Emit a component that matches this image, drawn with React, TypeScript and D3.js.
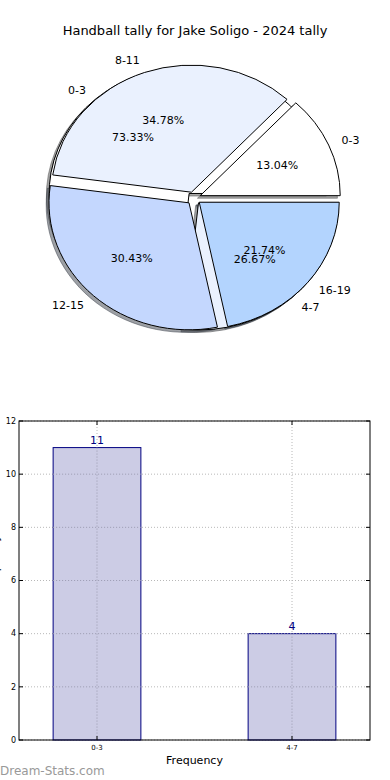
import React from 'react';
import * as d3 from 'd3';

// outer pie: score ranges
const tallyLabels = ['0-3', '8-11', '12-15', '16-19'];
const tallyValues = [3, 8, 7, 5];
const tallyColors = ['#ffffff', '#eaf1fe', '#c4d7fe', '#b3d4fe'];

// inner pie: frequency
const freqLabels = ['0-3', '4-7'];
const freqValues = [11, 4];
const freqColors = ['#ffffff', '#eaf1fe'];

// bar chart ticks
const yTicks = [0, 2, 4, 6, 8, 10, 12];

const W = 390;
const H = 780;
const FONT = 'DejaVu Sans, sans-serif';

const cx = 193.8;
const cy = 198.2;
const rx = 140;
const ry = 127;
const explode = 0.05;

interface PieProps {
  labels: string[];
  values: number[];
  colors: string[];
}

// matplotlib starts at 3 o'clock and goes counterclockwise
const pieGen = d3.pie<number>().sort(null).startAngle(Math.PI / 2).endAngle(Math.PI / 2 - 2 * Math.PI);
const arcGen = d3.arc<d3.PieArcDatum<number>>().innerRadius(0).outerRadius(1);

const offsetOf = (d: d3.PieArcDatum<number>, dist: number) => {
  const a = (d.startAngle + d.endAngle) / 2;
  return [Math.sin(a) * dist, -Math.cos(a) * dist];
};

const Shadows: React.FC<PieProps> = ({ values, colors }) => {
  const arcs = pieGen(values);
  return (
    <g>
      {arcs.map((d, i) => {
        const [ox, oy] = offsetOf(d, explode);
        const c = d3.rgb(colors[i]);
        const sc = `rgba(${c.r * 0.3},${c.g * 0.3},${c.b * 0.3},0.5)`;
        return (
          <path
            key={i}
            d={arcGen(d) || ''}
            transform={`translate(${cx - 0.02 * rx},${cy + 0.02 * ry}) scale(${rx},${ry}) translate(${ox},${oy})`}
            fill={sc}
            stroke={sc}
            strokeWidth={1}
            vectorEffect="non-scaling-stroke"
          />
        );
      })}
    </g>
  );
};

const Wedges: React.FC<PieProps> = ({ values, colors }) => {
  const arcs = pieGen(values);
  return (
    <g>
      {arcs.map((d, i) => {
        const [ox, oy] = offsetOf(d, explode);
        return (
          <path
            key={i}
            d={arcGen(d) || ''}
            transform={`translate(${cx},${cy}) scale(${rx},${ry}) translate(${ox},${oy})`}
            fill={colors[i]}
            stroke="#000"
            strokeWidth={1}
            strokeLinejoin="round"
            vectorEffect="non-scaling-stroke"
          />
        );
      })}
    </g>
  );
};

const PieTexts: React.FC<PieProps> = ({ labels, values }) => {
  const arcs = pieGen(values);
  const total = d3.sum(values);
  return (
    <g fontFamily={FONT} fontSize={11} fill="#000">
      {arcs.map((d, i) => {
        const [lx, ly] = offsetOf(d, 1.1 + explode);
        const [px, py] = offsetOf(d, 0.6 + explode);
        return (
          <g key={i}>
            <text
              x={cx + lx * rx}
              y={cy + ly * ry}
              dy="0.35em"
              textAnchor={lx > 0 ? 'start' : 'end'}
            >
              {labels[i]}
            </text>
            <text x={cx + px * rx} y={cy + py * ry} dy="0.35em" textAnchor="middle">
              {((values[i] / total) * 100).toFixed(2)}%
            </text>
          </g>
        );
      })}
    </g>
  );
};

const BarChart: React.FC = () => {
  const left = 19;
  const right = 370;
  const top = 421;
  const bottom = 740;
  const x = d3.scaleLinear().domain([-0.4, 1.4]).range([left, right]);
  const y = d3.scaleLinear().domain([0, 12]).range([bottom, top]);
  const barW = 0.45;
  const xs = freqLabels.map((_, i) => i);

  return (
    <g fontFamily={FONT}>
      {/* grid */}
      {yTicks.map(t => (
        <line key={'gy' + t} x1={left} x2={right} y1={y(t)} y2={y(t)} stroke="#b8b8b8" strokeDasharray="1 2" />
      ))}
      {xs.map(i => (
        <line key={'gx' + i} x1={x(i)} x2={x(i)} y1={top} y2={bottom} stroke="#b8b8b8" strokeDasharray="1 2" />
      ))}
      {/* bars */}
      {freqValues.map((v, i) => (
        <g key={'b' + i}>
          <rect
            x={x(i - barW / 2)}
            y={y(v)}
            width={x(barW) - x(0)}
            height={bottom - y(v)}
            fill="#ccccE5"
            stroke="#000080"
            strokeWidth={1}
          />
          <text x={x(i)} y={y(v) - 4} textAnchor="middle" fontSize={11} fill="#000080">
            {v}
          </text>
        </g>
      ))}
      {/* grid over bars (matplotlib draws grid on top) */}
      {xs.map(i => (
        <line key={'gx2' + i} x1={x(i)} x2={x(i)} y1={y(freqValues[i])} y2={bottom} stroke="#9a9ab0" strokeDasharray="1 2" />
      ))}
      {yTicks.map(t =>
        xs.map(i =>
          t <= freqValues[i] && t > 0 ? (
            <line
              key={'gyb' + t + i}
              x1={x(i - barW / 2)}
              x2={x(i + barW / 2)}
              y1={y(t)}
              y2={y(t)}
              stroke="#9a9ab0"
              strokeDasharray="1 2"
            />
          ) : null
        )
      )}
      {/* frame */}
      <rect x={left} y={top} width={right - left} height={bottom - top} fill="none" stroke="#000" strokeWidth={1} />
      {/* ticks */}
      {yTicks.map(t => (
        <g key={'ty' + t}>
          <line x1={left} x2={left + 4} y1={y(t)} y2={y(t)} stroke="#000" />
          <line x1={right - 4} x2={right} y1={y(t)} y2={y(t)} stroke="#000" />
          <text x={left - 3} y={y(t)} dy="0.35em" textAnchor="end" fontSize={8} fill="#000">
            {t}
          </text>
        </g>
      ))}
      {xs.map(i => (
        <g key={'tx' + i}>
          <line x1={x(i)} x2={x(i)} y1={bottom} y2={bottom - 4} stroke="#000" />
          <line x1={x(i)} x2={x(i)} y1={top} y2={top + 4} stroke="#000" />
          <text x={x(i)} y={bottom + 8} dy="0.35em" textAnchor="middle" fontSize={7} fill="#000">
            {freqLabels[i]}
          </text>
        </g>
      ))}
      <text x={(left + right) / 2} y={760} dy="0.35em" textAnchor="middle" fontSize={11} fill="#000">
        Frequency
      </text>
      <text transform={`translate(-1,${(top + bottom) / 2}) rotate(-90)`} textAnchor="middle" fontSize={11} fill="#000">
        Score Frequency
      </text>
    </g>
  );
};

const App: React.FC = () => {
  return (
    <svg
      width={W}
      height={H}
      viewBox={`0 0 ${W} ${H}`}
      style={{ position: 'absolute', left: 0, top: 0, background: '#fff' }}
    >
      <rect width={W} height={H} fill="#fff" />
      <text x={W / 2} y={30} dy="0.35em" textAnchor="middle" fontFamily={FONT} fontSize={13} fill="#000">
        Handball tally for Jake Soligo - 2024 tally
      </text>
      <Shadows labels={freqLabels} values={freqValues} colors={freqColors} />
      <Shadows labels={tallyLabels} values={tallyValues} colors={tallyColors} />
      <Wedges labels={freqLabels} values={freqValues} colors={freqColors} />
      <Wedges labels={tallyLabels} values={tallyValues} colors={tallyColors} />
      <PieTexts labels={tallyLabels} values={tallyValues} colors={tallyColors} />
      <PieTexts labels={freqLabels} values={freqValues} colors={freqColors} />
      <BarChart />
      <text x={0} y={775} fontFamily={FONT} fontSize={12} fill="#999999">
        Dream-Stats.com
      </text>
    </svg>
  );
};

export default App;
